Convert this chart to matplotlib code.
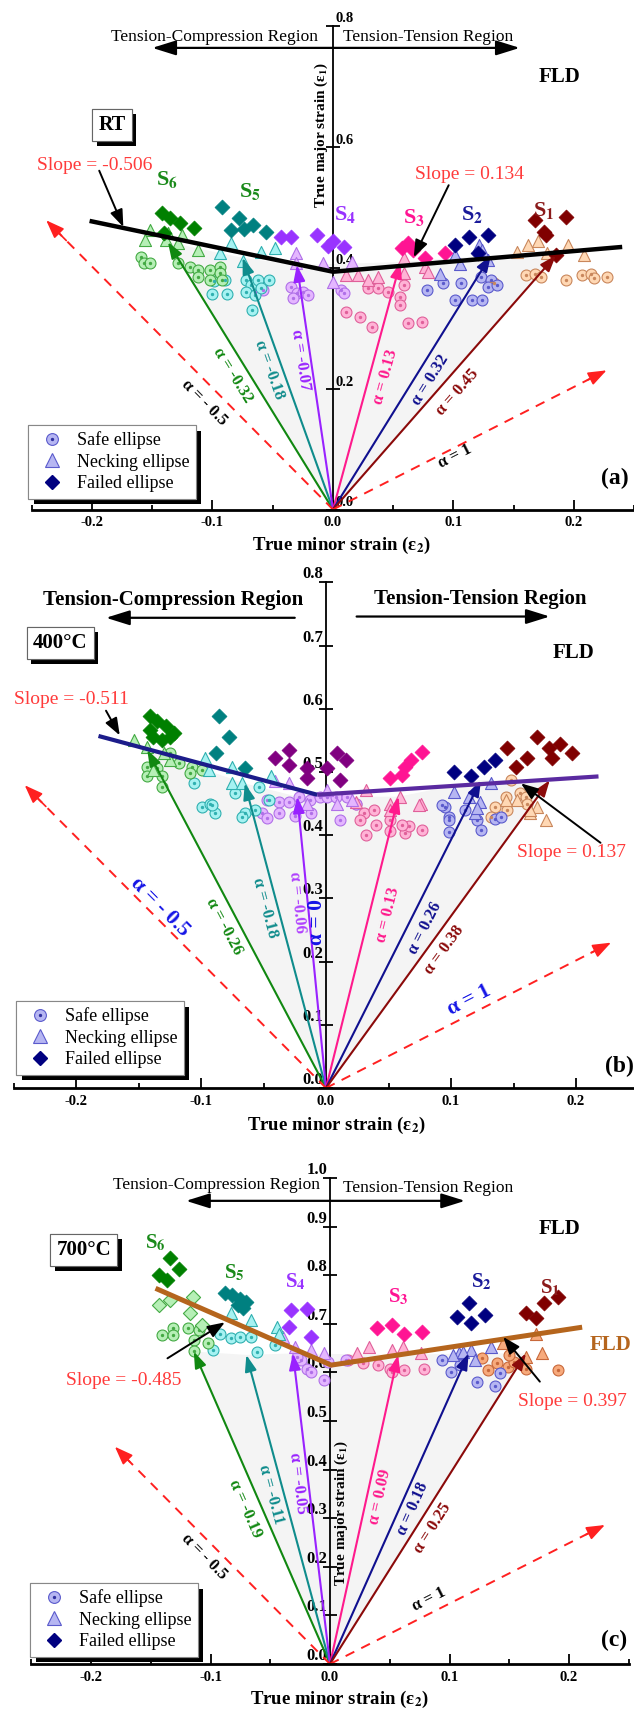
import numpy as np
import matplotlib
matplotlib.use('Agg')
import matplotlib.pyplot as plt
from matplotlib.lines import Line2D
from matplotlib.legend_handler import HandlerTuple
from matplotlib.ticker import MultipleLocator
import matplotlib.patheffects as pe

plt.rcParams['font.family'] = ['Liberation Serif', 'DejaVu Serif']
plt.rcParams['mathtext.fontset'] = 'stix'

# ------------------------------------------------------------------ data
SERIES = ['S1', 'S2', 'S3', 'S4', 'S5', 'S6']
X_TICKS = [-0.2, -0.1, 0.0, 0.1, 0.2]
X_TICK_LABELS = ['-0.2', '-0.1', '0.0', '0.1', '0.2']
LEGEND_LABELS = ['Safe ellipse', 'Necking ellipse', 'Failed ellipse']
PANEL_TAGS = ['RT', '400°C', '700°C']

# ---- panel (a) RT : points are (minor strain e2, major strain e1)
A_Y_TICKS = [0.0, 0.2, 0.4, 0.6, 0.8]
A_SAFE = {
    'S6': [(-0.159, 0.418), (-0.157, 0.407), (-0.152, 0.407), (-0.129, 0.407), (-0.119, 0.401), (-0.112, 0.396),
           (-0.102, 0.396), (-0.094, 0.401), (-0.112, 0.385), (-0.102, 0.380), (-0.094, 0.391), (-0.092, 0.380)],
    'S5': [(-0.099, 0.377), (-0.090, 0.379), (-0.100, 0.357), (-0.088, 0.357), (-0.072, 0.379), (-0.068, 0.371),
           (-0.062, 0.379), (-0.053, 0.379), (-0.072, 0.360), (-0.065, 0.355), (-0.067, 0.330), (-0.060, 0.366)],
    'S4': [(-0.065, 0.360), (-0.058, 0.363), (-0.035, 0.368), (-0.030, 0.358), (-0.025, 0.360), (-0.021, 0.355),
           (-0.033, 0.349), (0.007, 0.363), (0.009, 0.358)],
    'S3': [(0.029, 0.366), (0.037, 0.366), (0.059, 0.371), (0.056, 0.352), (0.056, 0.338), (0.011, 0.327),
           (0.022, 0.319), (0.032, 0.302), (0.062, 0.308), (0.074, 0.310), (0.046, 0.360)],
    'S2': [(0.078, 0.363), (0.091, 0.374), (0.106, 0.374), (0.101, 0.346), (0.115, 0.346), (0.124, 0.346),
           (0.123, 0.385), (0.131, 0.379), (0.129, 0.368), (0.136, 0.371)],
    'S1': [(0.131, 0.377), (0.134, 0.374), (0.160, 0.388), (0.168, 0.390), (0.173, 0.385), (0.193, 0.379),
           (0.207, 0.388), (0.214, 0.390), (0.217, 0.382), (0.227, 0.385)],
}
A_NECK = {
    'S6': [(-0.152, 0.462), (-0.137, 0.457), (-0.125, 0.454), (-0.156, 0.445), (-0.139, 0.445), (-0.129, 0.440),
           (-0.112, 0.429)],
    'S5': [(-0.094, 0.424), (-0.075, 0.410), (-0.048, 0.432), (-0.085, 0.440), (-0.060, 0.425)],
    'S4': [(-0.031, 0.424), (-0.031, 0.407), (0.016, 0.409), (0.000, 0.376), (-0.008, 0.407)],
    'S3': [(0.011, 0.388), (0.021, 0.388), (0.029, 0.379), (0.037, 0.385), (0.059, 0.416), (0.076, 0.401),
           (0.059, 0.391), (0.079, 0.393)],
    'S2': [(0.101, 0.420), (0.121, 0.437), (0.124, 0.429), (0.129, 0.412), (0.089, 0.390), (0.105, 0.405)],
    'S1': [(0.153, 0.426), (0.162, 0.437), (0.170, 0.443), (0.195, 0.437), (0.208, 0.421), (0.178, 0.424)],
}
A_FAIL = {
    'S6': [(-0.142, 0.490), (-0.135, 0.482), (-0.127, 0.474), (-0.115, 0.465), (-0.140, 0.457)],
    'S5': [(-0.092, 0.500), (-0.078, 0.482), (-0.085, 0.462), (-0.066, 0.470), (-0.056, 0.459), (-0.074, 0.464)],
    'S4': [(-0.043, 0.451), (-0.035, 0.451), (-0.013, 0.454), (0.000, 0.443), (0.009, 0.434), (-0.004, 0.436)],
    'S3': [(0.057, 0.432), (0.066, 0.429), (0.076, 0.416), (0.093, 0.424), (0.062, 0.440)],
    'S2': [(0.101, 0.437), (0.113, 0.451), (0.129, 0.454), (0.120, 0.424)],
    'S1': [(0.168, 0.478), (0.193, 0.484), (0.175, 0.459), (0.177, 0.454), (0.185, 0.421)],
}
A_PATH_ALPHA = [-0.32, -0.18, -0.07, 0.13, 0.32, 0.45]
A_PATH_E2 = [-0.137, -0.075, -0.030, 0.056, 0.131, 0.185]
A_PATH_E1 = [0.442, 0.416, 0.404, 0.409, 0.420, 0.420]
A_DASH_ALPHA = [-0.5, 1]
A_DASH_E2 = [-0.238, 0.227]
A_DASH_E1 = [0.478, 0.230]
A_FLD_E2 = [-0.202, 0.0, 0.240]
A_FLD_E1 = [0.477, 0.393, 0.434]
A_SLOPES = [-0.506, 0.134]

# ---- panel (b) 400 C
B_Y_TICKS = [0.0, 0.1, 0.2, 0.3, 0.4, 0.5, 0.6, 0.7, 0.8]
B_SAFE = {
    'S6': [(-0.143, 0.508), (-0.135, 0.506), (-0.125, 0.530), (-0.118, 0.514), (-0.143, 0.493), (-0.131, 0.493),
           (-0.131, 0.477), (-0.107, 0.508), (-0.099, 0.503), (-0.109, 0.498)],
    'S5': [(-0.106, 0.482), (-0.099, 0.445), (-0.093, 0.450), (-0.089, 0.435), (-0.073, 0.466), (-0.065, 0.435),
           (-0.054, 0.477), (-0.046, 0.456), (-0.091, 0.448), (-0.067, 0.429), (-0.057, 0.440)],
    'S4': [(-0.047, 0.456), (-0.038, 0.453), (-0.030, 0.453), (-0.022, 0.461), (-0.013, 0.456), (-0.005, 0.461),
           (0.001, 0.461), (0.008, 0.461), (0.017, 0.461), (0.024, 0.450), (-0.051, 0.435), (-0.038, 0.435),
           (-0.025, 0.430), (-0.012, 0.435), (0.011, 0.424), (-0.047, 0.427)],
    'S3': [(0.024, 0.450), (0.030, 0.435), (0.038, 0.440), (0.027, 0.424), (0.040, 0.416), (0.051, 0.406),
           (0.063, 0.403), (0.066, 0.414), (0.077, 0.408), (0.032, 0.400), (0.051, 0.424), (0.061, 0.416)],
    'S2': [(0.095, 0.445), (0.098, 0.429), (0.093, 0.448), (0.098, 0.424), (0.098, 0.405), (0.121, 0.424),
           (0.124, 0.408), (0.135, 0.426), (0.140, 0.429), (0.111, 0.440)],
    'S1': [(0.135, 0.445), (0.144, 0.461), (0.148, 0.487), (0.155, 0.466), (0.160, 0.461), (0.145, 0.440),
           (0.161, 0.450), (0.132, 0.429)],
}
B_NECK = {
    'S6': [(-0.154, 0.551), (-0.143, 0.540), (-0.138, 0.503), (-0.125, 0.519), (-0.130, 0.530)],
    'S5': [(-0.097, 0.522), (-0.094, 0.503), (-0.075, 0.508), (-0.075, 0.482), (-0.067, 0.482), (-0.044, 0.493)],
    'S4': [(-0.041, 0.485), (-0.030, 0.482), (-0.015, 0.450), (0.009, 0.450), (0.001, 0.472), (0.021, 0.456)],
    'S3': [(0.032, 0.472), (0.059, 0.461), (0.076, 0.450), (0.051, 0.450), (0.051, 0.440), (0.074, 0.448),
           (0.024, 0.453)],
    'S2': [(0.102, 0.469), (0.114, 0.461), (0.123, 0.453), (0.132, 0.482), (0.119, 0.435), (0.121, 0.443)],
    'S1': [(0.153, 0.456), (0.169, 0.445), (0.163, 0.435), (0.144, 0.456), (0.163, 0.440), (0.176, 0.424)],
}
B_FAIL = {
    'S6': [(-0.141, 0.588), (-0.135, 0.580), (-0.128, 0.572), (-0.122, 0.561), (-0.138, 0.556), (-0.131, 0.551),
           (-0.125, 0.556), (-0.141, 0.566)],
    'S5': [(-0.086, 0.588), (-0.078, 0.556), (-0.088, 0.530), (-0.065, 0.506)],
    'S4': [(-0.041, 0.522), (-0.030, 0.535), (-0.030, 0.511), (-0.015, 0.506), (-0.015, 0.490), (0.001, 0.506),
           (0.009, 0.530), (0.016, 0.519), (0.011, 0.487)],
    'S3': [(0.051, 0.490), (0.061, 0.495), (0.068, 0.519), (0.077, 0.532), (0.063, 0.508)],
    'S2': [(0.102, 0.500), (0.116, 0.493), (0.126, 0.508), (0.135, 0.519)],
    'S1': [(0.145, 0.538), (0.152, 0.508), (0.161, 0.522), (0.169, 0.556), (0.178, 0.538), (0.181, 0.522),
           (0.187, 0.545), (0.197, 0.530)],
}
B_PATH_ALPHA = [-0.26, -0.18, -0.06, 0.13, 0.26, 0.38]
B_PATH_E2 = [-0.143, -0.065, -0.023, 0.058, 0.124, 0.179]
B_PATH_E1 = [0.535, 0.482, 0.461, 0.461, 0.487, 0.487]
B_DASH_ALPHA = [-0.5, 1]
B_DASH_E2 = [-0.241, 0.228]
B_DASH_E1 = [0.479, 0.230]
B_FLD_E2 = [-0.182, -0.007, 0.218]
B_FLD_E1 = [0.557, 0.464, 0.493]
B_SLOPES = [-0.511, 0.137]

# ---- panel (c) 700 C
C_Y_TICKS = [0.0, 0.1, 0.2, 0.3, 0.4, 0.5, 0.6, 0.7, 0.8, 0.9, 1.0]
C_SAFE = {
    'S6': [(-0.141, 0.677), (-0.131, 0.691), (-0.131, 0.677), (-0.119, 0.691), (-0.110, 0.687), (-0.114, 0.667),
           (-0.102, 0.660), (-0.114, 0.645)],
    'S5': [(-0.092, 0.680), (-0.083, 0.670), (-0.075, 0.673), (-0.066, 0.673), (-0.098, 0.646), (-0.046, 0.656),
           (-0.061, 0.643)],
    'S4': [(-0.024, 0.626), (-0.019, 0.608), (-0.016, 0.601), (-0.005, 0.584), (-0.002, 0.622), (0.013, 0.626),
           (-0.028, 0.632)],
    'S3': [(0.015, 0.626), (0.028, 0.619), (0.040, 0.615), (0.050, 0.608), (0.062, 0.605), (0.079, 0.608),
           (0.052, 0.601)],
    'S2': [(0.094, 0.626), (0.101, 0.601), (0.109, 0.615), (0.123, 0.581), (0.138, 0.571), (0.142, 0.598)],
    'S1': [(0.127, 0.629), (0.132, 0.605), (0.140, 0.619), (0.149, 0.612), (0.154, 0.622), (0.164, 0.608),
           (0.191, 0.605), (0.150, 0.636)],
}
C_NECK = {
    'S6': [(-0.143, 0.739), (-0.134, 0.749), (-0.115, 0.756), (-0.117, 0.722), (-0.107, 0.697)],
    'S5': [(-0.083, 0.722), (-0.066, 0.708), (-0.044, 0.694), (-0.043, 0.680)],
    'S4': [(-0.039, 0.673), (-0.029, 0.653), (-0.016, 0.646), (-0.005, 0.639)],
    'S3': [(0.023, 0.639), (0.033, 0.653), (0.052, 0.646), (0.061, 0.653), (0.076, 0.639)],
    'S2': [(0.108, 0.639), (0.118, 0.646), (0.135, 0.653), (0.103, 0.636), (0.111, 0.643), (0.121, 0.626)],
    'S1': [(0.145, 0.660), (0.172, 0.680), (0.177, 0.639), (0.164, 0.632)],
}
C_FAIL = {
    'S6': [(-0.134, 0.835), (-0.126, 0.812), (-0.143, 0.800), (-0.136, 0.790)],
    'S5': [(-0.088, 0.763), (-0.082, 0.759), (-0.075, 0.752), (-0.070, 0.745), (-0.073, 0.732), (-0.077, 0.739)],
    'S4': [(-0.033, 0.728), (-0.019, 0.730), (-0.034, 0.694), (-0.016, 0.673)],
    'S3': [(0.039, 0.691), (0.052, 0.698), (0.062, 0.680), (0.077, 0.684)],
    'S2': [(0.116, 0.742), (0.106, 0.715), (0.130, 0.718), (0.118, 0.701)],
    'S1': [(0.164, 0.722), (0.172, 0.711), (0.179, 0.742), (0.191, 0.756)],
}
C_PATH_ALPHA = [-0.19, -0.11, -0.05, 0.09, 0.18, 0.25]
C_PATH_E2 = [-0.114, -0.070, -0.031, 0.057, 0.116, 0.164]
C_PATH_E1 = [0.643, 0.636, 0.639, 0.636, 0.639, 0.639]
C_DASH_ALPHA = [-0.5, 1]
C_DASH_E2 = [-0.180, 0.230]
C_DASH_E1 = [0.447, 0.286]
C_FLD_E2 = [-0.146, 0.001, 0.211]
C_FLD_E1 = [0.773, 0.615, 0.693]
C_SLOPES = [-0.485, 0.397]

# ------------------------------------------------------------------ styles
LIGHT = {'S1': '#ffd8b4', 'S2': '#b6b6f2', 'S3': '#ffb3d6', 'S4': '#e4b6ff', 'S5': '#a6f2f2', 'S6': '#b6efb6'}
EDGE = {'S1': '#c9875c', 'S2': '#5a5acc', 'S3': '#e0609a', 'S4': '#b070e8', 'S5': '#30b0b0', 'S6': '#44aa44'}
DARK = {'S1': '#800000', 'S2': '#000080', 'S3': '#ff1493', 'S4': '#9933ff', 'S5': '#008080', 'S6': '#008000'}
PATH_COLORS = ['#118811', '#0f8c8c', '#9922ff', '#ff1a8c', '#10108f', '#8b0a0a']
SLBL_COLORS = {'S6': '#1a8a1a', 'S5': '#1a8a1a', 'S4': '#9933ff', 'S3': '#ff1493', 'S2': '#1a1a9a', 'S1': '#8b1a1a'}
RED_TXT = '#ff3b3b'

W, H = 634, 1711
fig = plt.figure(figsize=(W / 100, H / 100), dpi=100)


def add_panel(x_left, x_right, y_bottom, y_top):
    return fig.add_axes([x_left / W, 1 - y_bottom / H, (x_right - x_left) / W, (y_bottom - y_top) / H])


def setup_axes(ax, ymax, yticks, labels_right, ytick_fs):
    ax.set_xlim(-0.25, 0.25)
    ax.set_ylim(0, ymax)
    ax.patch.set_alpha(0)
    ax.spines['top'].set_visible(False)
    ax.spines['bottom'].set_linewidth(2.0)
    ax.spines['bottom'].set_zorder(6)
    if labels_right:
        ax.spines['left'].set_visible(False)
        ax.spines['right'].set_position(('data', 0))
        ax.spines['right'].set_linewidth(1.3)
        ax.yaxis.set_ticks_position('right')
        ax.tick_params(axis='y', direction='inout', length=10, width=1.3, pad=-3.5)
    else:
        ax.spines['right'].set_visible(False)
        ax.spines['left'].set_position(('data', 0))
        ax.spines['left'].set_linewidth(1.3)
        ax.tick_params(axis='y', direction='inout', length=10, width=1.3, pad=-3)
    ax.set_yticks(yticks)
    ax.set_yticklabels([f'{t:.1f}' for t in yticks], fontsize=ytick_fs, fontweight='bold')
    for lbl in ax.get_yticklabels():
        lbl.set_va('bottom')
    ax.set_xticks(X_TICKS)
    ax.set_xticklabels(X_TICK_LABELS, fontsize=10.5, fontweight='bold')
    ax.xaxis.set_minor_locator(MultipleLocator(0.05))
    ax.tick_params(axis='x', which='major', direction='in', length=7, width=1.3, pad=5)
    ax.tick_params(axis='x', which='minor', direction='in', length=3.5, width=1.3)


def plot_points(ax, safe, neck, fail, dark, light, edge, neck_marker):
    for s in SERIES:
        p = np.asarray(safe[s])
        ax.scatter(p[:, 0], p[:, 1], s=62, marker='o', facecolors=light[s], edgecolors=edge[s],
                   linewidths=0.8, zorder=4, clip_on=False)
        ax.scatter(p[:, 0], p[:, 1], s=2, marker='o', color=edge[s], zorder=4.1, clip_on=False)
    for s in SERIES:
        p = np.asarray(neck[s])
        mk = neck_marker.get(s, '^')
        ax.scatter(p[:, 0], p[:, 1], s=75 if mk == '^' else 52, marker=mk, facecolors=light[s],
                   edgecolors=edge[s], linewidths=0.8, zorder=4.2, clip_on=False)
    for s in SERIES:
        p = np.asarray(fail[s])
        ax.scatter(p[:, 0], p[:, 1], s=58, marker='D', facecolors=dark[s], edgecolors=dark[s],
                   linewidths=0.5, zorder=4.3, clip_on=False)


def screen_angle(ax, e2, e1):
    p0 = ax.transData.transform((0, 0))
    p1 = ax.transData.transform((e2, e1))
    ang = np.degrees(np.arctan2(p1[1] - p0[1], p1[0] - p0[0]))
    if ang > 90:
        ang -= 180
    return ang


def fmt_alpha(a):
    if a == -0.5:
        return 'α = - 0.5'
    if a == 1:
        return 'α = 1'
    return f'α = {a:g}' if abs(a) >= 0.1 or a == 0 else f'α = {a:.2f}'


def plot_paths(ax, alphas, e2s, e1s, lbl_pos, lbl_fs, lbl_colors):
    poly_x = [0] + list(e2s) + [0]
    poly_y = [0] + list(e1s) + [0]
    ax.fill(poly_x, poly_y, color='#f4f4f4', zorder=0.5, lw=0)
    for a, x, y, c, (lu, lv), lc in zip(alphas, e2s, e1s, PATH_COLORS, lbl_pos, lbl_colors):
        ax.annotate('', xy=(x, y), xytext=(0, 0),
                    arrowprops=dict(arrowstyle='-|>,head_length=0.7,head_width=0.25', color=c, lw=1.5,
                                    mutation_scale=14, shrinkA=0, shrinkB=0), zorder=5)
        ax.text(lu, lv, fmt_alpha(a), color=lc, fontsize=lbl_fs, fontweight='bold',
                rotation=screen_angle(ax, x, y), ha='center', va='center', zorder=7)


def plot_dashed(ax, alphas, e2s, e1s, lbl_pos, lbl_fs, lbl_color):
    for a, x, y, (lu, lv) in zip(alphas, e2s, e1s, lbl_pos):
        ax.plot([0, x * 0.97], [0, y * 0.97], ls=(0, (5, 4)), color='#ff2020', lw=1.4, zorder=5)
        ax.annotate('', xy=(x, y), xytext=(x * 0.93, y * 0.93),
                    arrowprops=dict(arrowstyle='-|>,head_length=0.8,head_width=0.3', color='#ff2020', lw=1.2,
                                    mutation_scale=14, shrinkA=0, shrinkB=0), zorder=5)
        ax.text(lu, lv, fmt_alpha(a), color=lbl_color, fontsize=lbl_fs, fontweight='bold',
                rotation=screen_angle(ax, x, y), ha='center', va='center', zorder=7)


def boxed(ax, u, v, s, fs):
    t = ax.text(u, v, s, fontsize=fs, fontweight='bold', ha='center', va='center', zorder=9,
                bbox=dict(boxstyle='square,pad=0.3', fc='white', ec='#666666', lw=0.8))
    t.get_bbox_patch().set_path_effects([pe.withSimplePatchShadow(offset=(3.5, -3.5), shadow_rgbFace='k', alpha=1.0),
                                         pe.Normal()])


def add_legend(ax, x_px, y_px):
    h_safe = (Line2D([], [], marker='o', ls='', ms=8.5, mfc='#b6b6f2', mec='#5a5acc', mew=0.8),
              Line2D([], [], marker='o', ls='', ms=1.4, mfc='#3030a0', mec='#3030a0'))
    h_neck = Line2D([], [], marker='^', ls='', ms=9.5, mfc='#b6b6f2', mec='#5a5acc', mew=0.8)
    h_fail = Line2D([], [], marker='D', ls='', ms=7.5, mfc='#000080', mec='#000080')
    leg = ax.legend([h_safe, h_neck, h_fail], LEGEND_LABELS, handler_map={tuple: HandlerTuple(ndivide=1)},
                    loc='upper left', bbox_to_anchor=(x_px / W, 1 - y_px / H), bbox_transform=fig.transFigure,
                    borderaxespad=0, fontsize=13, frameon=True, fancybox=False, edgecolor='#888888',
                    framealpha=1, borderpad=0.35, handlelength=2.0, handletextpad=0.35, labelspacing=0.25)
    leg.get_frame().set_linewidth(0.8)
    leg.get_frame().set_path_effects([pe.withSimplePatchShadow(offset=(4, -4), shadow_rgbFace='k', alpha=1.0),
                                      pe.Normal()])
    leg.set_zorder(10)


def slope_arrow(ax, start, end):
    ax.annotate('', xy=end, xytext=start,
                arrowprops=dict(arrowstyle='-|>,head_length=0.8,head_width=0.3', color='k', lw=1.4,
                                mutation_scale=13, shrinkA=0, shrinkB=0), zorder=8)


def region_arrow(ax, x0, x1, y, both=True):
    style = '<|-|>' if both else '-|>'
    ax.annotate('', xy=(x1, y), xytext=(x0, y),
                arrowprops=dict(arrowstyle=style + ',head_length=0.8,head_width=0.25', color='k', lw=1.6,
                                mutation_scale=18, shrinkA=0, shrinkB=0), annotation_clip=False)


def s_labels(ax, pos, fs):
    for s, (u, v) in pos.items():
        ax.text(u, v, 'S$_\\mathbf{' + s[1] + '}$', color=SLBL_COLORS[s], fontsize=fs, fontweight='bold',
                ha='center', va='center', zorder=7)


XLABEL = 'True minor strain (ε$_\\mathbf{2}$)'
YLABEL = 'True major strain (ε$_\\mathbf{1}$)'

# ================================================================ panel (a)
axa = add_panel(31.75, 634.25, 509.5, 25.5)
setup_axes(axa, 0.8, A_Y_TICKS, labels_right=True, ytick_fs=10.5)
plot_points(axa, A_SAFE, A_NECK, A_FAIL, DARK, LIGHT, EDGE, {})
plot_paths(axa, A_PATH_ALPHA, A_PATH_E2, A_PATH_E1,
           [(-0.0834, 0.222), (-0.0531, 0.2306), (-0.0266, 0.247), (0.044, 0.219), (0.081, 0.214), (0.103, 0.193)],
           12, PATH_COLORS)
plot_dashed(axa, A_DASH_ALPHA, A_DASH_E2, A_DASH_E1, [(-0.107, 0.176), (0.101, 0.087)], 12, 'k')
axa.plot(A_FLD_E2, A_FLD_E1, color='k', lw=3.2, zorder=6, solid_capstyle='butt')
axa.text(-0.098, 0.781, 'Tension-Compression Region', fontsize=12.5, ha='center', va='center')
axa.text(0.0788, 0.781, 'Tension-Tension Region', fontsize=12.5, ha='center', va='center')
region_arrow(axa, 0.155, -0.150, 0.763)
axa.text(0.188, 0.715, 'FLD', fontsize=15, fontweight='bold', ha='center', va='center')
boxed(axa, -0.1834, 0.636, PANEL_TAGS[0], 14.5)
axa.text(-0.198, 0.569, f'Slope = {A_SLOPES[0]}', color=RED_TXT, fontsize=14, ha='center', va='center')
slope_arrow(axa, (-0.194, 0.560), (-0.174, 0.467))
axa.text(0.113, 0.553, f'Slope = {A_SLOPES[1]}', color=RED_TXT, fontsize=14, ha='center', va='center')
slope_arrow(axa, (0.096, 0.536), (0.067, 0.417))
s_labels(axa, {'S6': (-0.138, 0.545), 'S5': (-0.069, 0.525), 'S4': (0.010, 0.487), 'S3': (0.067, 0.483),
               'S2': (0.115, 0.487), 'S1': (0.175, 0.495)}, 16)
axa.text(-0.010, 0.619, YLABEL, rotation=90, fontsize=11, fontweight='bold', ha='center', va='center', zorder=3)
axa.text(0.007, -0.0587, XLABEL, fontsize=13.5, fontweight='bold', ha='center', va='center')
axa.text(0.234, 0.052, '(a)', fontsize=17, fontweight='bold', ha='center', va='center')
add_legend(axa, 28, 425)

# ================================================================ panel (b)
axb = add_panel(13.5, 638.5, 1088, 582.4)
setup_axes(axb, 0.8, B_Y_TICKS, labels_right=False, ytick_fs=12)
DARK_B = dict(DARK, S4='#800080')
plot_points(axb, B_SAFE, B_NECK, B_FAIL, DARK_B, LIGHT, EDGE, {})
plot_paths(axb, B_PATH_ALPHA, B_PATH_E2, B_PATH_E1,
           [(-0.0813, 0.255), (-0.0489, 0.285), (-0.023, 0.293), (0.0498, 0.274), (0.0789, 0.253), (0.095, 0.218)],
           12, ['#118811', '#0f8c8c', '#b040ff', '#ff1a8c', '#10108f', '#8b0a0a'])
plot_dashed(axb, B_DASH_ALPHA, B_DASH_E2, B_DASH_E1, [(-0.133, 0.287), (0.1144, 0.139)], 15.5, '#1414e6')
axb.text(-0.0069, 0.263, 'α = 0', color='#1414e6', fontsize=15.5, fontweight='bold', rotation=90,
         ha='center', va='center', zorder=7)
axb.plot(B_FLD_E2[:2], B_FLD_E1[:2], color='#1c1c8a', lw=3.0, zorder=6, solid_capstyle='butt')
axb.plot(B_FLD_E2[1:], B_FLD_E1[1:], color='#5a2aa0', lw=3.0, zorder=6, solid_capstyle='butt')
axb.text(-0.122, 0.772, 'Tension-Compression Region', fontsize=15, fontweight='bold', ha='center', va='center')
axb.text(0.123, 0.774, 'Tension-Tension Region', fontsize=15, fontweight='bold', ha='center', va='center')
region_arrow(axb, -0.025, -0.176, 0.744, both=False)
region_arrow(axb, 0.0245, 0.179, 0.746, both=False)
axb.text(0.198, 0.688, 'FLD', fontsize=15, fontweight='bold', ha='center', va='center')
boxed(axb, -0.2128, 0.704, PANEL_TAGS[1], 15)
axb.text(-0.204, 0.614, f'Slope = {B_SLOPES[0]}', color=RED_TXT, fontsize=14, ha='center', va='center')
slope_arrow(axb, (-0.176, 0.597), (-0.165, 0.558))
axb.text(0.153, 0.372, f'Slope = {B_SLOPES[1]}', color=RED_TXT, fontsize=14, ha='left', va='center')
slope_arrow(axb, (0.2196, 0.388), (0.156, 0.482))
axb.text(0.008, -0.0585, XLABEL, fontsize=13.5, fontweight='bold', ha='center', va='center')
axb.text(0.2345, 0.034, '(b)', fontsize=17, fontweight='bold', ha='center', va='center')
add_legend(axb, 16, 1001)

# ================================================================ panel (c)
axc = add_panel(31.25, 628.75, 1664, 1178)
setup_axes(axc, 1.0, C_Y_TICKS, labels_right=False, ytick_fs=12)
LIGHT_C = dict(LIGHT, S1='#f7aa7c', S5='#a6f2f2')
EDGE_C = dict(EDGE, S1='#c8683a')
plot_points(axc, C_SAFE, C_NECK, C_FAIL, DARK, LIGHT_C, EDGE_C, {'S6': 'D'})
plot_paths(axc, C_PATH_ALPHA, C_PATH_E2, C_PATH_E1,
           [(-0.0715, 0.320), (-0.0494, 0.348), (-0.0274, 0.372), (0.0418, 0.344), (0.069, 0.320), (0.086, 0.279)],
           12, PATH_COLORS)
plot_dashed(axc, C_DASH_ALPHA, C_DASH_E2, C_DASH_E1, [(-0.105, 0.221), (0.0825, 0.132)], 12, 'k')
axc.plot(C_FLD_E2, C_FLD_E1, color='#b5651d', lw=3.6, zorder=6, solid_capstyle='butt')
axc.text(-0.0953, 0.986, 'Tension-Compression Region', fontsize=12.5, ha='center', va='center')
axc.text(0.0825, 0.980, 'Tension-Tension Region', fontsize=12.5, ha='center', va='center')
region_arrow(axc, 0.113, -0.1205, 0.953)
axc.text(0.192, 0.895, 'FLD', fontsize=15, fontweight='bold', ha='center', va='center')
axc.text(0.2176, 0.656, 'FLD', fontsize=15, fontweight='bold', color='#b5651d', ha='left', va='center')
boxed(axc, -0.206, 0.852, PANEL_TAGS[2], 15)
axc.text(-0.173, 0.584, f'Slope = {C_SLOPES[0]}', color=RED_TXT, fontsize=14, ha='center', va='center')
slope_arrow(axc, (-0.136, 0.629), (-0.088, 0.703))
axc.text(0.157, 0.540, f'Slope = {C_SLOPES[1]}', color=RED_TXT, fontsize=14, ha='left', va='center')
slope_arrow(axc, (0.1756, 0.581), (0.145, 0.673))
s_labels(axc, {'S6': (-0.146, 0.866), 'S5': (-0.080, 0.804), 'S4': (-0.029, 0.787), 'S3': (0.057, 0.756),
               'S2': (0.1265, 0.787), 'S1': (0.184, 0.773)}, 15)
axc.text(0.0098, 0.31, YLABEL, rotation=90, fontsize=11, fontweight='bold', ha='center', va='center', zorder=3)
axc.text(0.0075, -0.072, XLABEL, fontsize=13.5, fontweight='bold', ha='center', va='center')
axc.text(0.238, 0.049, '(c)', fontsize=17, fontweight='bold', ha='center', va='center')
add_legend(axc, 30, 1583)

fig.savefig('out.png', dpi=100)
